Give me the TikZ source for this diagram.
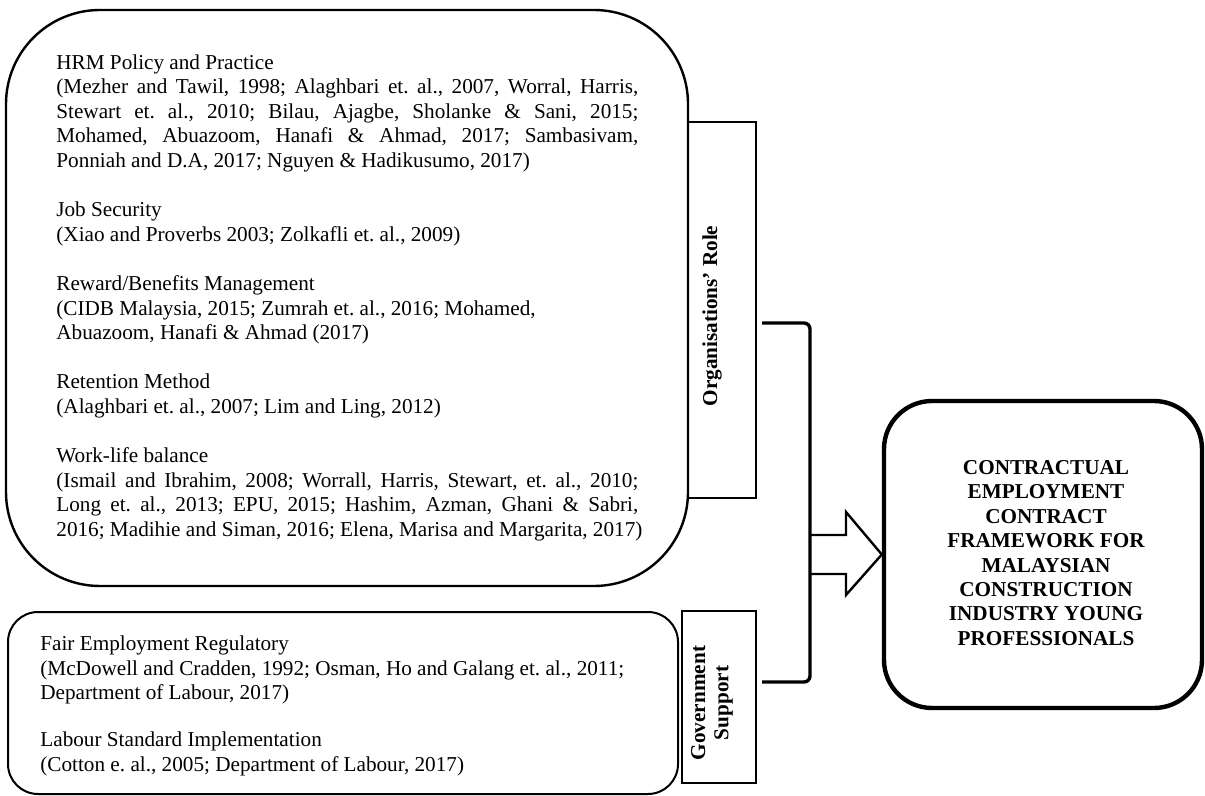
\documentclass[tikz,border=0pt]{standalone}
\usepackage{fontspec}
\setmainfont{Liberation Serif}
\frenchspacing
\newcommand\jline[1]{\makebox[291pt][s]{#1}}
\begin{document}
\begin{tikzpicture}[x=0.5pt,y=-0.5pt,
  box/.style={draw, line width=1.2pt, inner sep=0pt},
  labelbox/.style={draw, line width=0.9pt, inner sep=0pt},
  bodytext/.style={anchor=north west, align=left, inner sep=0pt,
    font=\fontsize{10.6}{12.3}\selectfont\frenchspacing},
  vlabel/.style={rotate=90, align=center, inner sep=0pt,
    font=\fontsize{10.6}{11.6}\selectfont\bfseries},
  bracket/.style={line width=1.7pt, rounded corners=3pt},
  blockarrow/.style={line width=1.2pt, line join=miter},
]
\useasboundingbox (0,0) rectangle (1205,796);

% main boxes
\node[box, rounded corners=47pt, minimum width=341pt, minimum height=288pt] (org) at (347,298) {};
\node[labelbox, minimum width=34pt, minimum height=188pt] (orglab) at (722,310) {};
\node[box, line width=1pt, rounded corners=15pt, minimum width=335pt, minimum height=91pt] (gov) at (343,703) {};
\node[labelbox, fill=white, minimum width=37pt, minimum height=86pt] (govlab) at (719,697) {};
\node[draw, line width=2.2pt, rounded corners=24pt, minimum width=159pt, minimum height=153.5pt, inner sep=0pt] (out) at (1043,554.5) {};

% texts
\node[bodytext] (orgtext) at (56,54) {%
HRM Policy and Practice\\
\jline{(Mezher and Tawil, 1998; Alaghbari et. al., 2007, Worral, Harris,}\\
\jline{Stewart et. al., 2010; Bilau, Ajagbe, Sholanke \& Sani, 2015;}\\
\jline{Mohamed, Abuazoom, Hanafi \& Ahmad, 2017; Sambasivam,}\\
Ponniah and D.A, 2017; Nguyen \& Hadikusumo, 2017)\\[12.3pt]
Job Security\\
(Xiao and Proverbs 2003; Zolkafli et. al., 2009)\\[12.3pt]
Reward/Benefits Management\\
(CIDB Malaysia, 2015; Zumrah et. al., 2016; Mohamed,\\
Abuazoom, Hanafi \& Ahmad (2017)\\[12.3pt]
Retention Method\\
(Alaghbari et. al., 2007; Lim and Ling, 2012)\\[12.3pt]
Work-life balance\\
\jline{(Ismail and Ibrahim, 2008; Worrall, Harris, Stewart, et. al., 2010;}\\
\jline{Long et. al., 2013; EPU, 2015; Hashim, Azman, Ghani \& Sabri,}\\
2016; Madihie and Siman, 2016; Elena, Marisa and Margarita, 2017)};

\node[bodytext] (govtext) at (40,635.5) {%
Fair Employment Regulatory\\
(McDowell and Cradden, 1992; Osman, Ho and Galang et. al., 2011;\\
Department of Labour, 2017)\\[11pt]
Labour Standard Implementation\\
(Cotton e. al., 2005; Department of Labour, 2017)};

\node[vlabel] (orgrole) at (712,316) {Organisations’ Role};
\node[vlabel] (govsup) at (712,703) {Government\\Support};

\node[align=center, inner sep=0pt, font=\fontsize{10.6}{12.2}\selectfont\bfseries] (outtext) at (1046,553) {%
CONTRACTUAL\\EMPLOYMENT\\CONTRACT\\FRAMEWORK FOR\\MALAYSIAN\\CONSTRUCTION\\INDUSTRY YOUNG\\PROFESSIONALS};

% bracket
\coordinate (bt) at (762,323);
\coordinate (bb) at (762,682);
\coordinate (bx) at (810,323);
\draw[bracket] (bt) -- (bx) -- (bx |- bb) -- (bb);

% block arrow into output box
\coordinate (tip) at (out.west);
\draw[blockarrow] (810,535) -- (846,535) -- (846,512) -- (tip) -- (846,595) -- (846,574) -- (810,574);
\end{tikzpicture}
\end{document}
